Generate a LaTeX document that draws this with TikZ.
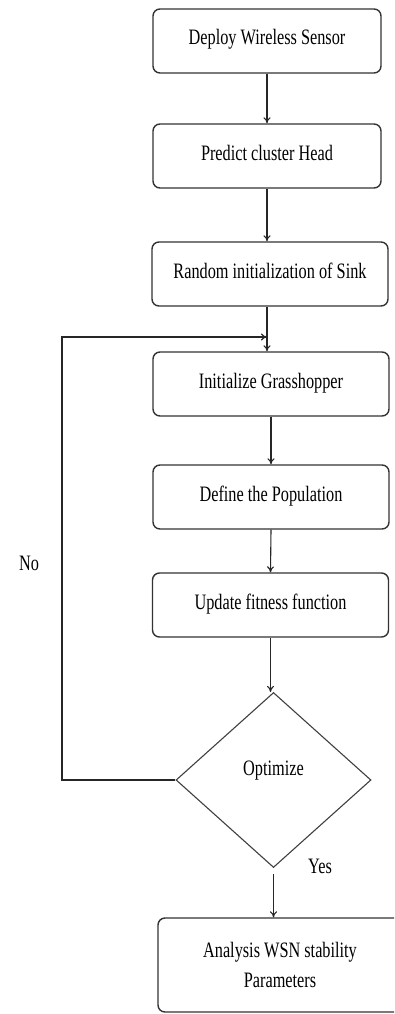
\documentclass[tikz,border=0pt]{standalone}
\usepackage{fontspec}
\setmainfont{Liberation Serif}[FakeStretch=0.74]
\usetikzlibrary{arrows.meta,shapes.geometric}
\tikzset{
	flowbox/.style={draw=black!80, line width=1.4pt, rounded corners=7pt, inner xsep=0pt, inner ysep=0pt, text height=36pt, text depth=28pt, font=\fontsize{22}{26}\selectfont},
	decision/.style={diamond, draw=black!75, line width=1.1pt, inner sep=0pt, minimum width=195pt, minimum height=175pt, text height=10pt, text depth=20pt, font=\fontsize{22}{26}\selectfont},
	flow/.style={draw=black!85, line width=1.1pt, -{To[length=6pt,width=7pt]}},
	plain/.style={font=\fontsize{22}{26}\selectfont}
}

\begin{document}
\begin{tikzpicture}[x=1pt,y=-1pt]
			%%%%% START %%%%%
			\useasboundingbox (0,0) rectangle (394,1014);
			\clip (0,0) rectangle (394,1014);
			\fill[white] (0,0) rectangle (394,1014);
			
			\node[flowbox, minimum width=228pt] (deploy) at (267,41) {Deploy Wireless Sensor};
			\node[flowbox, minimum width=228pt] (predict) at (267,156) {Predict cluster Head};
			\node[flowbox, minimum width=236pt] (sink) at (270,274) {Random initialization of Sink};
			\node[flowbox, minimum width=236pt] (grass) at (271,384) {Initialize Grasshopper};
			\node[flowbox, minimum width=236pt] (population) at (271,497) {Define the Population};
			\node[flowbox, minimum width=236pt] (fitness) at (270.5,605) {Update fitness function};
			
			\node[decision] (optimize) at (273.5,780) {Optimize};
			
			\node[flowbox, minimum width=244pt, minimum height=94pt, text height=, text depth=, align=center, font=\fontsize{22}{30}\selectfont] (analysis) at (280,965) {Analysis WSN stability\\Parameters};
			
			\node[plain] (no) at (29,563) {No};
			\node[plain] (yes) at (320,866) {Yes};
			
			\draw[flow] (deploy.south) -- (predict.north);
			\draw[flow] (predict.south) -- (predict.south |- sink.north);
			\draw[flow] (predict.south |- sink.south) -- (predict.south |- grass.north);
			\draw[flow] (grass.south) -- (population.north);
			\draw[flow] (population.south) -- (fitness.north);
			\draw[flow] (fitness.south) -- (fitness.south |- optimize.north);
			\draw[flow] ([yshift=-6pt]optimize.south) -- (optimize.south |- analysis.north);
			
			% loop back
			\coordinate (turn) at (62,337);
			\coordinate (back) at (267,337);
			\draw[flow] (optimize.west) -| (turn) -- (back);
			
			%%%%% END %%%%%
\end{tikzpicture}
\end{document}
